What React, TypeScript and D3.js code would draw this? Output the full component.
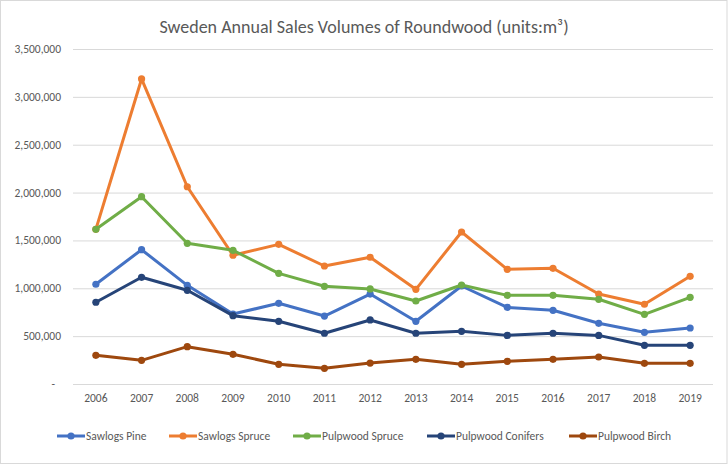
import React, { useEffect, useRef } from 'react';
import * as d3 from 'd3';

const YEARS = ['2006', '2007', '2008', '2009', '2010', '2011', '2012', '2013', '2014', '2015', '2016', '2017', '2018', '2019'];

const SAWLOGS_PINE = [1042000, 1403000, 1031000, 731000, 843000, 710000, 940000, 655000, 1024000, 801000, 770000, 634000, 540000, 585000];
const SAWLOGS_SPRUCE = [1616000, 3187000, 2061000, 1345000, 1459000, 1233000, 1324000, 989000, 1588000, 1198000, 1209000, 940000, 833000, 1125000];
const PULPWOOD_SPRUCE = [1616000, 1957000, 1470000, 1397000, 1156000, 1021000, 993000, 867000, 1034000, 926000, 926000, 885000, 728000, 906000];
const PULPWOOD_CONIFERS = [854000, 1115000, 979000, 714000, 655000, 530000, 669000, 530000, 550000, 508000, 530000, 508000, 404000, 404000];
const PULPWOOD_BIRCH = [300000, 247000, 390000, 310000, 206000, 164000, 219000, 258000, 206000, 237000, 258000, 282000, 216000, 216000];

const Y_TICKS = [0, 500000, 1000000, 1500000, 2000000, 2500000, 3000000, 3500000];

const SERIES = [
  { name: 'Sawlogs Pine', values: SAWLOGS_PINE, color: '#4472C4' },
  { name: 'Sawlogs Spruce', values: SAWLOGS_SPRUCE, color: '#ED7D31' },
  { name: 'Pulpwood Spruce', values: PULPWOOD_SPRUCE, color: '#70AD47' },
  { name: 'Pulpwood Conifers', values: PULPWOOD_CONIFERS, color: '#264478' },
  { name: 'Pulpwood Birch', values: PULPWOOD_BIRCH, color: '#9E480E' },
];

const FONT = 'Carlito, Lato, "Open Sans", sans-serif';
const TEXT = '#595959';

const App: React.FC = () => {
  const svgRef = useRef<SVGSVGElement>(null);

  useEffect(() => {
    if (!svgRef.current) return;
    const width = 728;
    const height = 476;
    const margin = { top: 49, right: 15, bottom: 92, left: 73 };

    const svg = d3.select(svgRef.current);
    svg.selectAll('*').remove();

    // chart frame
    svg.append('rect')
      .attr('x', 0.5).attr('y', 0.5)
      .attr('width', width - 1.5).attr('height', 463)
      .attr('fill', '#fff')
      .attr('stroke', '#d9d9d9');

    const x = d3.scaleBand<string>()
      .domain(YEARS)
      .range([margin.left, width - margin.right]);

    const y = d3.scaleLinear()
      .domain([0, 3500000])
      .range([height - margin.bottom, margin.top]);

    const cx = (d: string) => (x(d) as number) + x.bandwidth() / 2;

    // grid
    const grid = d3.axisLeft(y)
      .tickValues(Y_TICKS)
      .tickSize(-(width - margin.left - margin.right))
      .tickFormat(() => '');
    const gg = svg.append('g')
      .attr('transform', `translate(${margin.left},0)`)
      .call(grid);
    gg.select('.domain').remove();
    gg.selectAll('line').attr('stroke', '#d9d9d9').attr('stroke-width', 1);

    // y labels
    const fmt = d3.format(',');
    svg.append('g').selectAll('text')
      .data(Y_TICKS)
      .join('text')
      .attr('x', d => (d === 0 ? 55 : 61))
      .attr('y', d => y(d))
      .attr('dy', '0.35em')
      .attr('text-anchor', 'end')
      .attr('font-family', FONT)
      .attr('font-size', 11.5)
      .attr('fill', TEXT)
      .text(d => (d === 0 ? '-' : fmt(d)));

    // x labels
    svg.append('g').selectAll('text')
      .data(YEARS)
      .join('text')
      .attr('x', d => cx(d))
      .attr('y', height - margin.bottom + 18)
      .attr('text-anchor', 'middle')
      .attr('font-family', FONT)
      .attr('font-size', 11.5)
      .attr('fill', TEXT)
      .text(d => d);

    const line = d3.line<number>()
      .x((_, i) => cx(YEARS[i]))
      .y(d => y(d));

    SERIES.forEach(s => {
      const g = svg.append('g');
      g.append('path')
        .datum(s.values)
        .attr('fill', 'none')
        .attr('stroke', s.color)
        .attr('stroke-width', 3)
        .attr('stroke-linejoin', 'round')
        .attr('d', line);
      g.selectAll('circle')
        .data(s.values)
        .join('circle')
        .attr('cx', (_, i) => cx(YEARS[i]))
        .attr('cy', d => y(d))
        .attr('r', 3.6)
        .attr('fill', s.color);
    });

    // legend
    const legendX = [57, 169, 293, 427, 569];
    const ly = 436;
    SERIES.forEach((s, i) => {
      const g = svg.append('g').attr('transform', `translate(${legendX[i]},${ly})`);
      g.append('line')
        .attr('x1', 0).attr('x2', 28)
        .attr('y1', 0).attr('y2', 0)
        .attr('stroke', s.color).attr('stroke-width', 3);
      g.append('circle').attr('cx', 14).attr('cy', 0).attr('r', 3.6).attr('fill', s.color);
      g.append('text')
        .attr('x', 29).attr('y', 0).attr('dy', '0.35em')
        .attr('font-family', FONT)
        .attr('font-size', 11.5)
        .attr('fill', TEXT)
        .text(s.name);
    });

    // title
    const title = svg.append('text')
      .attr('x', width / 2)
      .attr('y', 27)
      .attr('dy', '0.35em')
      .attr('text-anchor', 'middle')
      .attr('font-family', FONT)
      .attr('font-size', 18)
      .attr('fill', TEXT);
    title.append('tspan').text('Sweden Annual Sales Volumes of Roundwood (units:m³)');
  }, []);

  return (
    <div style={{ position: 'fixed', left: 0, top: 0, width: 728, height: 476, background: '#fff' }}>
      <svg ref={svgRef} width={728} height={476} style={{ display: 'block' }} />
    </div>
  );
};

export default App;
